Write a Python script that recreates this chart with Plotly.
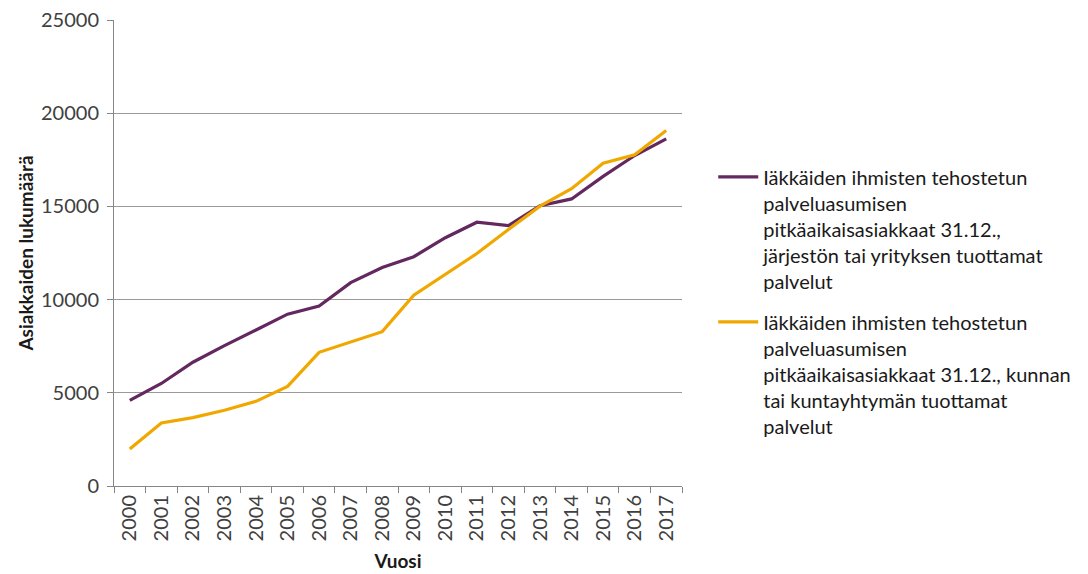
import plotly.graph_objects as go

years = [str(y) for y in range(2000, 2018)]

# järjestön tai yrityksen tuottamat palvelut
private = [4590, 5500, 6640, 7530, 8370, 9220, 9650, 10910, 11720, 12300,
           13320, 14150, 13970, 15040, 15400, 16610, 17730, 18620]
# kunnan tai kuntayhtymän tuottamat palvelut
public = [1980, 3380, 3670, 4060, 4540, 5340, 7170, 7710, 8280, 10240,
          11360, 12470, 13760, 15010, 15950, 17320, 17770, 19070]

name_private = ("Iäkkäiden ihmisten tehostetun<br>palveluasumisen<br>"
                "pitkäaikaisasiakkaat 31.12.,<br>järjestön tai yrityksen tuottamat<br>palvelut")
name_public = ("Iäkkäiden ihmisten tehostetun<br>palveluasumisen<br>"
               "pitkäaikaisasiakkaat 31.12., kunnan<br>tai kuntayhtymän tuottamat<br>palvelut")

font_family = "Lato, 'Open Sans', sans-serif"

fig = go.Figure()
fig.add_trace(go.Scatter(x=years, y=private, name=name_private, mode="lines",
                         legendgroup="a", line=dict(color="#62285f", width=3.2)))
fig.add_trace(go.Scatter(x=years, y=public, name=name_public, mode="lines",
                         legendgroup="b", line=dict(color="#f0a800", width=3.2)))

# page body has an 8px margin, so the figure is a bit smaller than the window
fig.update_layout(
    width=1080, height=566,
    margin=dict(l=106, r=401, t=12, b=88),
    paper_bgcolor="white", plot_bgcolor="white",
    font=dict(family=font_family, size=19, color="#404040"),
    legend=dict(x=1.055, y=0.705, xanchor="left", yanchor="top",
                valign="top", traceorder="grouped", tracegroupgap=12,
                itemwidth=40,
                font=dict(size=20, color="#1a1a1a")),
    showlegend=True,
)

fig.update_xaxes(
    type="category", range=[-0.5, 17.5], tickangle=-90, tickson="boundaries",
    ticks="outside", ticklen=6, tickcolor="#868686",
    showline=True, linecolor="#868686", linewidth=1,
    showgrid=False, automargin=False,
    tickfont=dict(size=20, color="#404040"),
    title=dict(text="<b>Vuosi</b>", font=dict(size=19, color="#1a1a1a"), standoff=14),
)
fig.update_yaxes(
    range=[0, 25000], dtick=5000, tickformat="d",
    ticks="outside", ticklen=6, tickcolor="#868686",
    showline=True, linecolor="#868686", linewidth=1,
    showgrid=True, gridcolor="#999999", gridwidth=1,
    zeroline=False, automargin=False, ticklabeloverflow="allow",
    ticklabelstandoff=4,
    tickfont=dict(size=20, color="#404040"),
    title=dict(text="<b>Asiakkaiden lukumäärä</b>", font=dict(size=19, color="#1a1a1a"), standoff=2),
)

fig.write_html("out.html")
